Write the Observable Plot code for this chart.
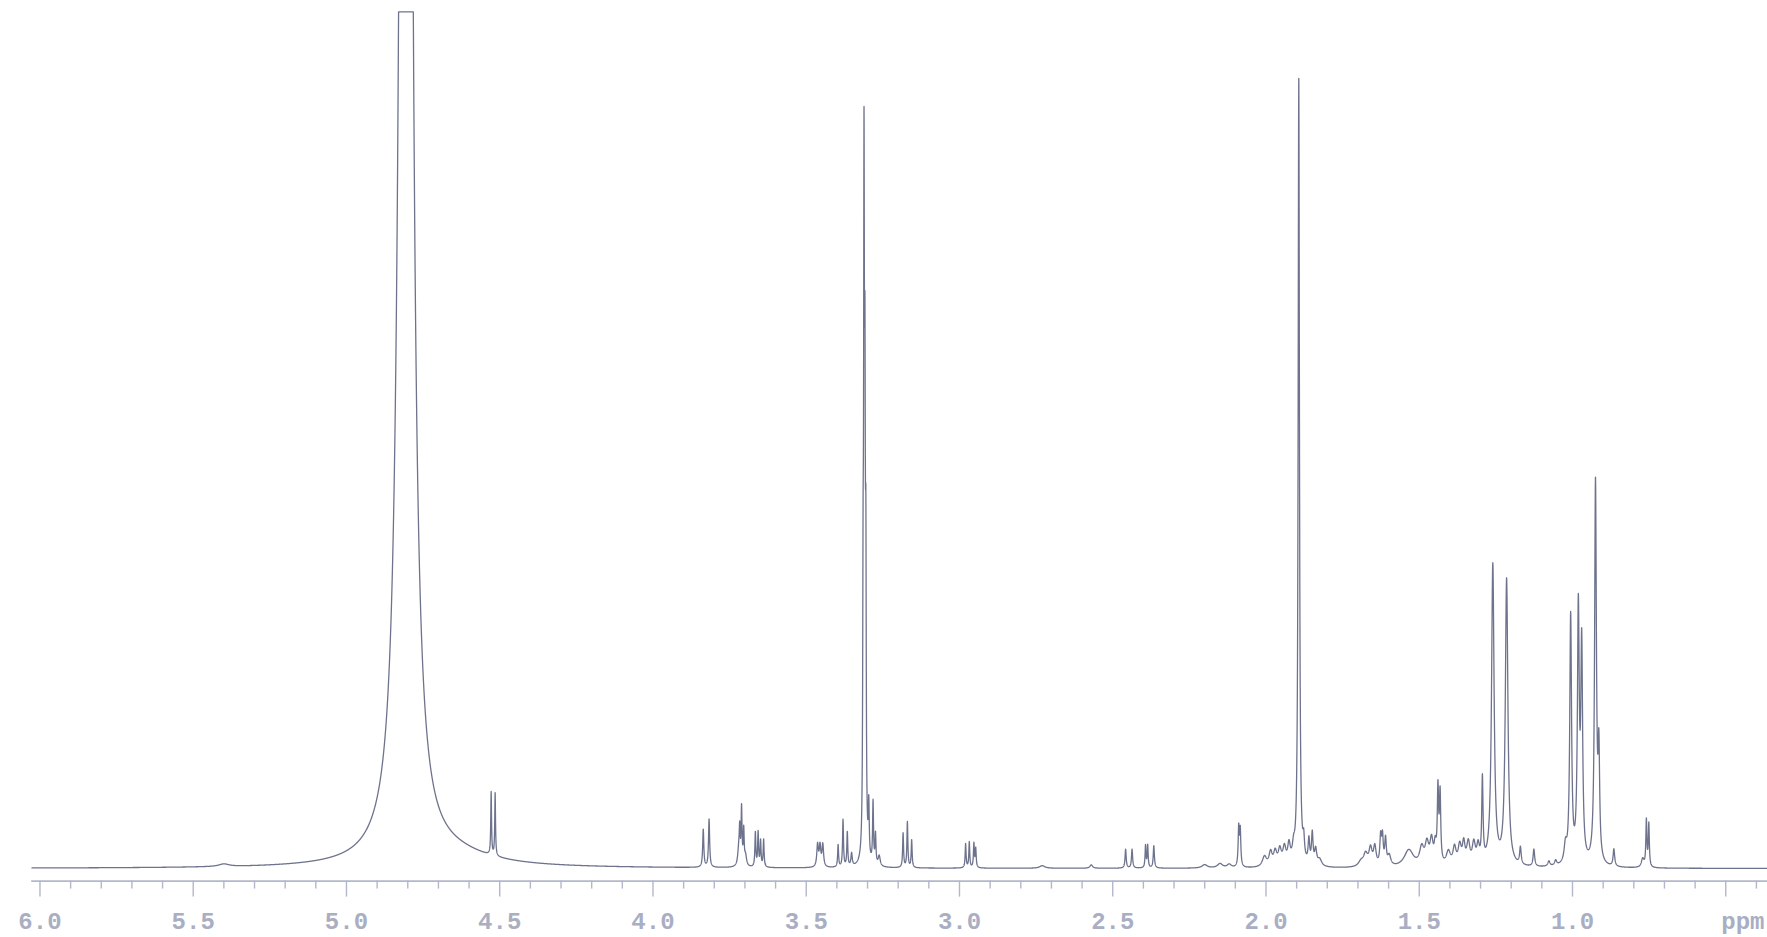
<!DOCTYPE html>
<html>
<head>
<meta charset="utf-8">
<script src="https://cdn.jsdelivr.net/npm/d3@7"></script>
<script src="https://cdn.jsdelivr.net/npm/@observablehq/plot@0.6"></script>
<style>
  html, body { margin: 0; padding: 0; background: #ffffff; }
  #chart svg { display: block; }
</style>
</head>
<body>
<div id="chart"></div>
<script>
// ---- Data (ppm, relative height, half-width in ppm) ----
const peakPpm = [
  4.806, 4.650, 4.528, 4.515, 5.400,
  3.836, 3.817,
  3.720, 3.717, 3.711, 3.704, 3.698,
  3.666, 3.657, 3.649, 3.639,
  3.463, 3.455, 3.446,
  3.396, 3.380, 3.366, 3.352,
  3.3145, 3.3115, 3.3085, 3.3055,
  3.296, 3.282, 3.274, 3.262,
  3.184, 3.170, 3.156,
  2.980, 2.968, 2.953, 2.947,
  2.730, 2.570,
  2.458, 2.437,
  2.393, 2.386, 2.366,
  2.200, 2.150, 2.120,
  2.089, 2.084,
  2.005, 1.985, 1.970, 1.955, 1.940, 1.925, 1.910,
  1.893,
  1.877, 1.860, 1.849, 1.838, 1.825,
  1.690, 1.675, 1.659, 1.645, 1.626, 1.620, 1.610, 1.598,
  1.534,
  1.492, 1.475, 1.460, 1.448,
  1.439, 1.432,
  1.405, 1.385, 1.368, 1.355, 1.340, 1.322, 1.308,
  1.294, 1.260, 1.215,
  1.170, 1.126, 1.077, 1.055,
  1.023, 1.006, 0.981, 0.970,
  0.925, 0.914, 0.865,
  0.771, 0.759, 0.751
];
const peakHeight = [
  5.0, 0.011, 0.073, 0.073, 0.003,
  0.044, 0.056,
  0.020, 0.035, 0.065, 0.040, 0.012,
  0.040, 0.040, 0.030, 0.032,
  0.026, 0.024, 0.026,
  0.026, 0.055, 0.040, 0.015,
  0.25, 0.73, 0.45, 0.30,
  0.062, 0.072, 0.035, 0.012,
  0.040, 0.053, 0.032,
  0.028, 0.030, 0.028, 0.022,
  0.003, 0.004,
  0.022, 0.022,
  0.026, 0.026, 0.026,
  0.004, 0.005, 0.004,
  0.045, 0.042,
  0.012, 0.016, 0.016, 0.018, 0.020, 0.022, 0.016,
  0.918,
  0.022, 0.028, 0.036, 0.018, 0.008,
  0.006, 0.014, 0.020, 0.022, 0.032, 0.032, 0.030, 0.012,
  0.020,
  0.020, 0.024, 0.028, 0.020,
  0.085, 0.080,
  0.016, 0.020, 0.022, 0.024, 0.025, 0.024, 0.020,
  0.097, 0.351, 0.334,
  0.020, 0.020, 0.006, 0.006,
  0.020, 0.289, 0.290, 0.248,
  0.445, 0.120, 0.020,
  0.010, 0.054, 0.050
];
const peakWidth = [
  0.012, 0.15, 0.0015, 0.0015, 0.02,
  0.0022, 0.0022,
  0.004, 0.0018, 0.0018, 0.0018, 0.004,
  0.0018, 0.0018, 0.0018, 0.0018,
  0.003, 0.003, 0.003,
  0.0018, 0.0018, 0.0018, 0.0025,
  0.0015, 0.0015, 0.0015, 0.0015,
  0.0018, 0.0018, 0.0018, 0.004,
  0.0018, 0.0018, 0.0018,
  0.0018, 0.0018, 0.0018, 0.0018,
  0.01, 0.005,
  0.0022, 0.0022,
  0.0018, 0.0018, 0.0022,
  0.01, 0.01, 0.008,
  0.0022, 0.0022,
  0.008, 0.006, 0.006, 0.006, 0.006, 0.005, 0.005,
  0.0025,
  0.003, 0.003, 0.003, 0.004, 0.008,
  0.01, 0.008, 0.006, 0.005, 0.003, 0.003, 0.003, 0.006,
  0.018,
  0.008, 0.007, 0.006, 0.004,
  0.0025, 0.0025,
  0.008, 0.006, 0.006, 0.005, 0.006, 0.006, 0.005,
  0.0025, 0.005, 0.005,
  0.003, 0.003, 0.004, 0.004,
  0.005, 0.0035, 0.0035, 0.0035,
  0.0035, 0.003, 0.003,
  0.005, 0.002, 0.002
];

// Axis ticks and labels
const majorTicks = [6.0, 5.5, 5.0, 4.5, 4.0, 3.5, 3.0, 2.5, 2.0, 1.5, 1.0, 0.5];
const tickLabels = ["6.0", "5.5", "5.0", "4.5", "4.0", "3.5", "3.0", "2.5", "2.0", "1.5", "1.0", ""];
const minorTicks = [5.9, 5.8, 5.7, 5.6, 5.4, 5.3, 5.2, 5.1, 4.9, 4.8, 4.7, 4.6, 4.4, 4.3, 4.2, 4.1,
  3.9, 3.8, 3.7, 3.6, 3.4, 3.3, 3.2, 3.1, 2.9, 2.8, 2.7, 2.6, 2.4, 2.3, 2.2, 2.1,
  1.9, 1.8, 1.7, 1.6, 1.4, 1.3, 1.2, 1.1, 0.9, 0.8, 0.7, 0.6, 0.4];
const unitLabel = ["ppm"];

// ---- Build the spectrum line from the peak list (Lorentzian lines) ----
const xStart = 6.026, xEnd = 0.3638;
const peaks = peakPpm.map((p, i) => ({ppm: p, h: peakHeight[i], w: peakWidth[i]}));
const grid = d3.range(xStart, xEnd, -0.0004).concat(peakPpm).concat([xEnd]).sort((a, b) => b - a);
const spectrum = grid.map(x => {
  let v = 0;
  for (const pk of peaks) {
    const d = x - pk.ppm;
    v += pk.h * pk.w * pk.w / (d * d + pk.w * pk.w);
  }
  return {ppm: x, intensity: Math.min(v, 1)};
});

const labelOf = new Map(majorTicks.map((t, i) => [t, tickLabels[i]]));
const axisColor = "#b3b7cb";
const textColor = "#a9aec3";
const lineColor = "#6e738d";
const font = "'Liberation Mono', 'DejaVu Sans Mono', monospace";

const chart = Plot.plot({
  width: 1767,
  height: 937,
  marginLeft: 31.5,
  marginRight: 0,
  marginTop: 11.3,
  marginBottom: 56.4,
  style: {background: "#ffffff", overflow: "visible"},
  x: {domain: [xStart, xEnd], axis: null, label: null},
  y: {domain: [-0.0147, 1], axis: null, label: null},
  marks: [
    Plot.frame({anchor: "bottom", stroke: axisColor, strokeWidth: 1.6}),
    Plot.axisX(minorTicks, {anchor: "bottom", tickSize: 8, tickFormat: () => "", label: null, color: axisColor, strokeWidth: 1.4}),
    Plot.axisX(majorTicks, {
      anchor: "bottom", tickSize: 16, tickPadding: 15, label: null,
      tickFormat: d => labelOf.get(d), color: axisColor, strokeWidth: 1.4,
      fill: textColor, fontSize: 24, fontWeight: "bold", fontFamily: font
    }),
    Plot.text(unitLabel, {
      text: d => d, frameAnchor: "bottom-right", dx: -3, dy: 31, lineAnchor: "top",
      textAnchor: "end", fill: textColor, fontSize: 24, fontWeight: "bold", fontFamily: font
    }),
    Plot.line(spectrum, {x: "ppm", y: "intensity", stroke: lineColor, strokeWidth: 1.3})
  ]
});
document.getElementById("chart").appendChild(chart);
</script>
</body>
</html>
